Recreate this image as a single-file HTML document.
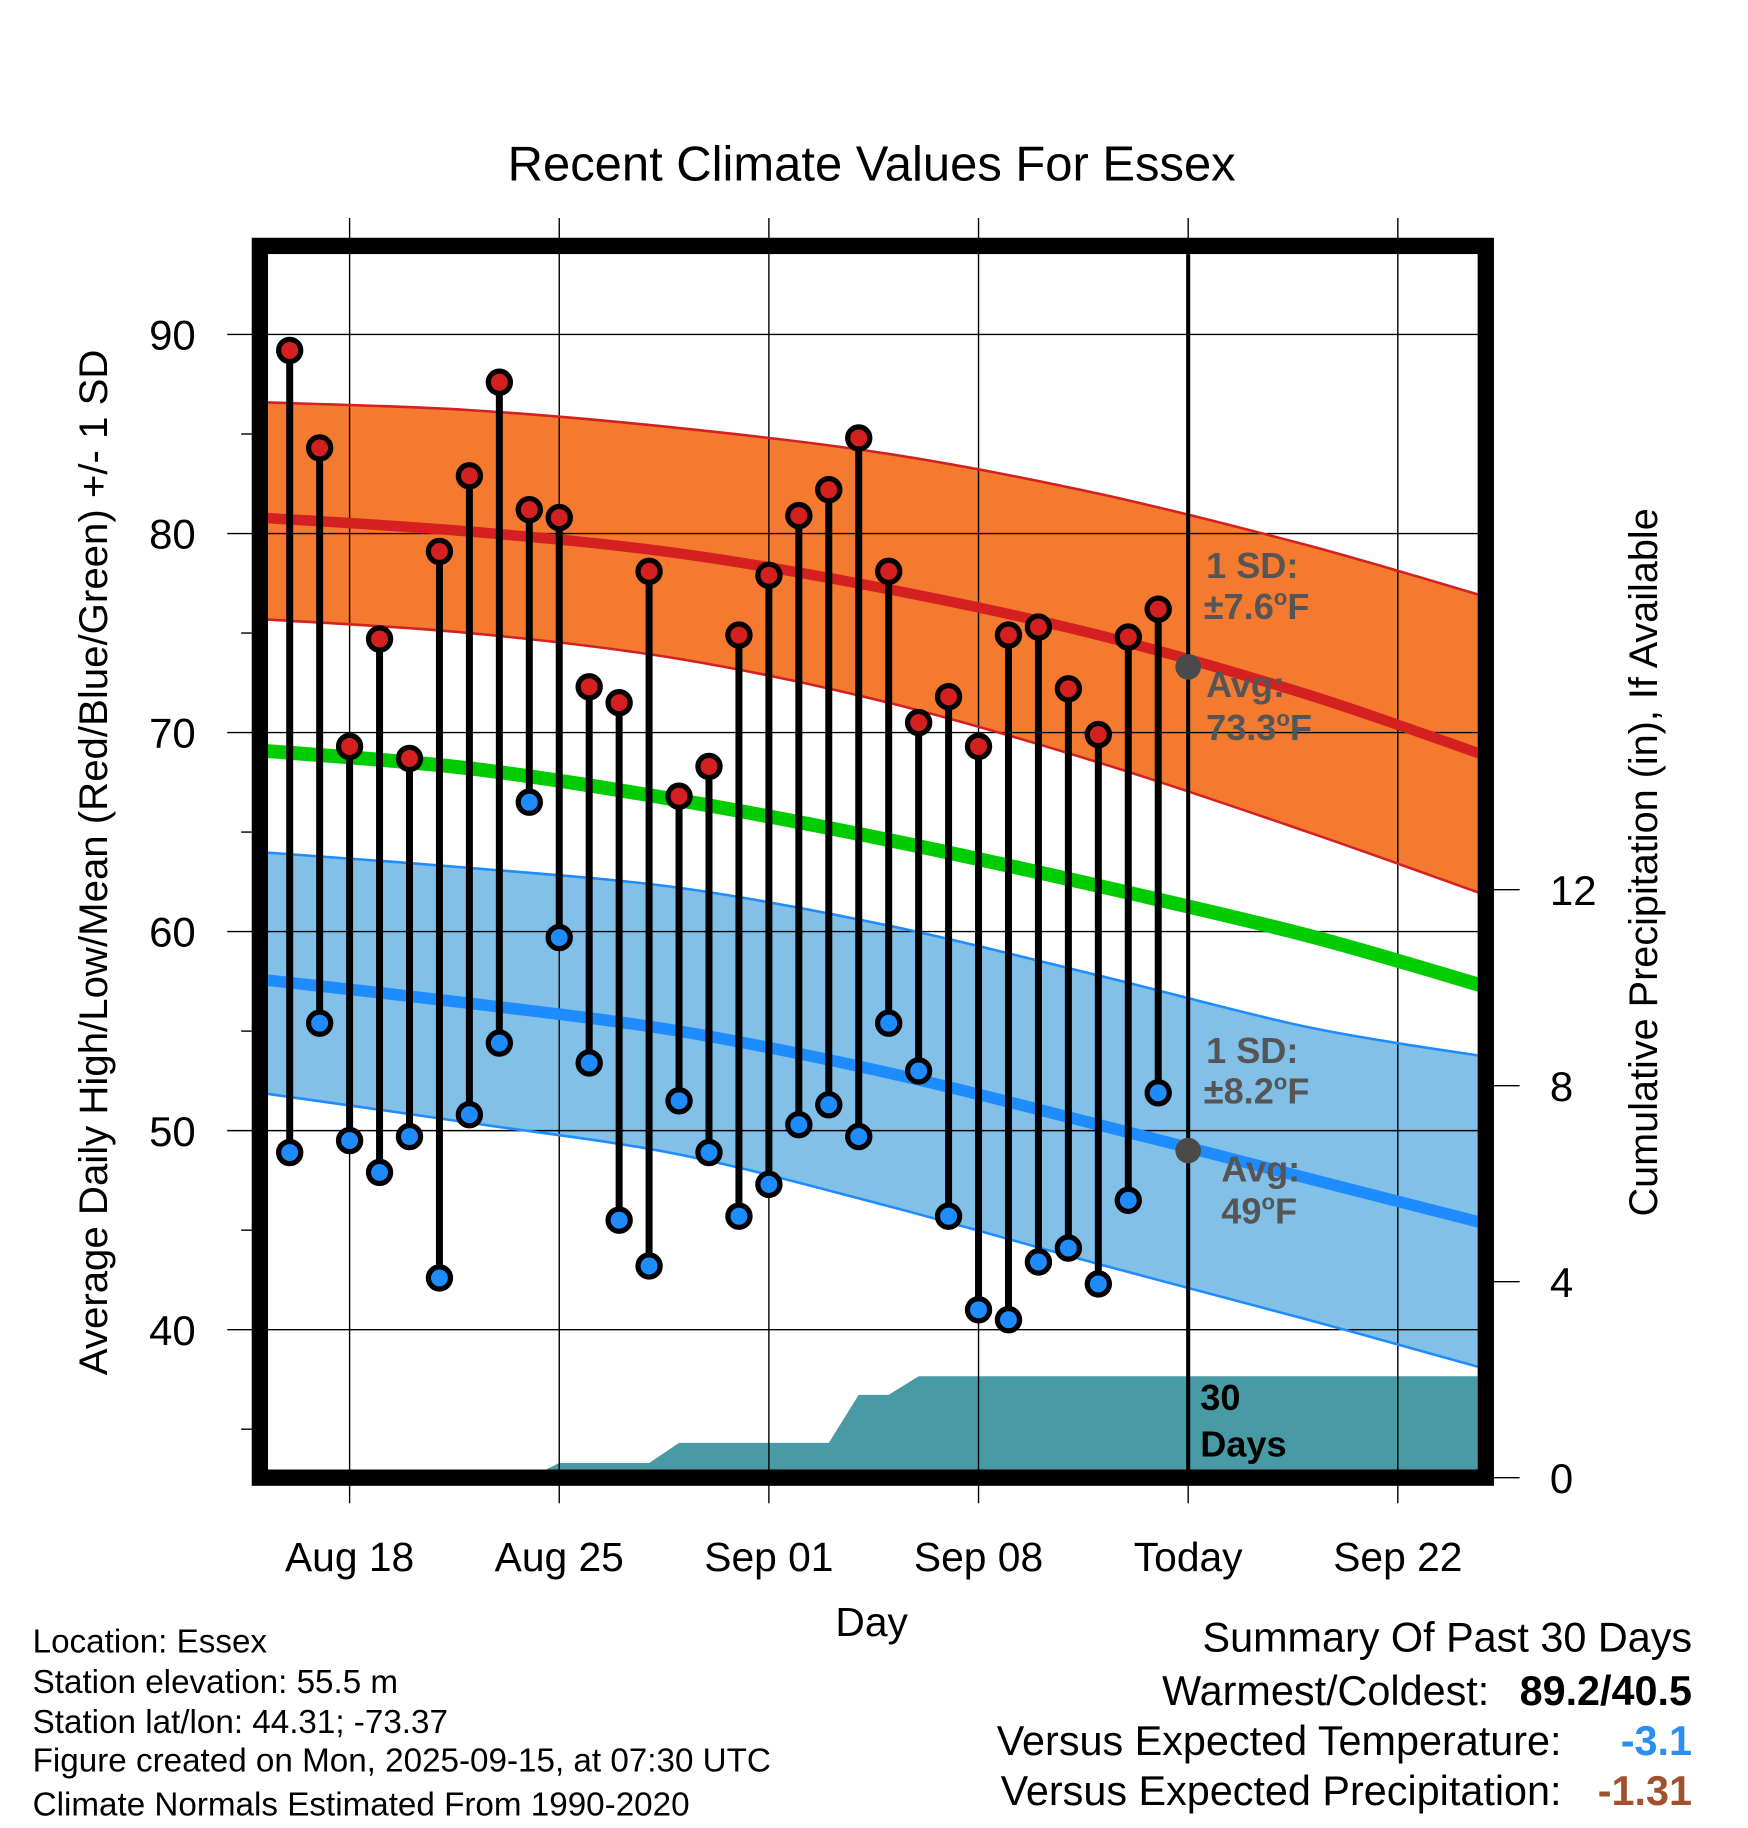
<!DOCTYPE html>
<html><head><meta charset="utf-8"><style>
html,body{margin:0;padding:0;background:#fff}
svg{display:block;font-family:"Liberation Sans",Arial,sans-serif}
</style></head><body>
<svg id="chart" width="1748" height="1828" viewBox="0 0 1500 1568.6" xmlns="http://www.w3.org/2000/svg">
<defs><clipPath id="plotclip"><rect x="230" y="218" width="1038" height="1044"/></clipPath></defs>
<g id="bg" clip-path="url(#plotclip)"></g>
<g id="grid"></g>
<g id="series" clip-path="url(#plotclip)"></g>
<g id="marks"></g>
<rect x="223" y="211" width="1052" height="1057" fill="none" stroke="#000" stroke-width="14"/>
<g id="axes"></g>
<text x="748" y="155" font-size="42" text-anchor="middle">Recent Climate Values For Essex</text>
<text transform="translate(92,740) rotate(-90)" font-size="34.5" text-anchor="middle">Average Daily High/Low/Mean (Red/Blue/Green) +/- 1 SD</text>
<text transform="translate(1422,740) rotate(-90)" font-size="34" text-anchor="middle">Cumulative Precipitation (in), If Available</text>
<text x="748" y="1404" font-size="35" text-anchor="middle">Day</text>
<g font-size="31" font-weight="bold" fill="#555">
<text x="1035" y="496">1 SD:</text><text x="1033" y="531">±7.6<tspan font-size="19" dy="-12">o</tspan><tspan dy="12">F</tspan></text>
<text x="1035" y="598">Avg:</text><text x="1035" y="635">73.3<tspan font-size="19" dy="-12">o</tspan><tspan dy="12">F</tspan></text>
</g>
<g font-size="31" font-weight="bold" fill="#555">
<text x="1035" y="912">1 SD:</text><text x="1033" y="947">±8.2<tspan font-size="19" dy="-12">o</tspan><tspan dy="12">F</tspan></text>
<text x="1048" y="1014">Avg:</text><text x="1048" y="1050">49<tspan font-size="19" dy="-12">o</tspan><tspan dy="12">F</tspan></text>
</g>
<g font-size="31" font-weight="bold" fill="#000">
<text x="1030" y="1210">30</text><text x="1030" y="1250">Days</text>
</g>
<g font-size="28.5">
<text x="28" y="1418">Location: Essex</text>
<text x="28" y="1453">Station elevation: 55.5 m</text>
<text x="28" y="1487">Station lat/lon: 44.31; -73.37</text>
<text x="28" y="1520">Figure created on Mon, 2025-09-15, at 07:30 UTC</text>
<text x="28" y="1558">Climate Normals Estimated From 1990-2020</text>
</g>
<g font-size="35.5">
<text x="1452" y="1417" text-anchor="end">Summary Of Past 30 Days</text>
<text x="1278" y="1463" text-anchor="end">Warmest/Coldest:</text>
<text x="1452" y="1463" text-anchor="end" font-weight="bold">89.2/40.5</text>
<text x="1340" y="1506" text-anchor="end">Versus Expected Temperature:</text>
<text x="1452" y="1506" text-anchor="end" font-weight="bold" fill="#2a8ff0">-3.1</text>
<text x="1340" y="1549" text-anchor="end">Versus Expected Precipitation:</text>
<text x="1452" y="1549" text-anchor="end" font-weight="bold" fill="#a0522d">-1.31</text>
</g>
</svg>
<script>
// day index: 0 = Aug 18
const obsDays = [-2,-1,0,1,2,3,4,5,6,7,8,9,10,11,12,13,14,15,16,17,18,19,20,21,22,23,24,25,26,27];
const highs = [89.2,84.3,69.3,74.7,68.7,79.1,82.9,87.6,81.2,80.8,72.3,71.5,78.1,66.8,68.3,74.9,77.9,80.9,82.2,84.8,78.1,70.5,71.8,69.3,74.9,75.3,72.2,69.9,74.8,76.2];
const lows = [48.9,55.4,49.5,47.9,49.7,42.6,50.8,54.4,66.5,59.7,53.4,45.5,43.2,51.5,48.9,45.7,47.3,50.3,51.3,49.7,55.4,53.0,45.7,41.0,40.5,43.4,44.1,42.3,46.5,51.9];
const precipCum = [0,0,0,0,0,0,0,0,0,0.3,0.3,0.3,0.3,0.71,0.71,0.71,0.71,0.71,0.71,1.69,1.69,2.07,2.07,2.07,2.07,2.07,2.07,2.07,2.07,2.07];
const normDays = [-3,4,11,18,25,32,38];
const highMean = [80.8,80.1,79.0,77.2,74.9,71.9,68.8];
const highUpper = [86.6,86.2,85.3,84.0,82.0,79.4,76.8];
const highLower = [75.7,75.0,73.7,71.5,68.5,65.0,61.8];
const meanNorm = [69.1,68.2,66.6,64.6,62.3,59.8,57.2];
const lowMean = [57.6,56.4,55.0,52.9,50.3,47.6,45.3];
const lowUpper = [64.0,63.2,62.2,60.3,57.8,55.2,53.7];
const lowLower = [51.9,50.4,48.8,46.2,43.3,40.5,38.0];
const xTickDays = [0,7,14,21,28,35];
const xTickLabels = ["Aug 18","Aug 25","Sep 01","Sep 08","Today","Sep 22"];
const yTicks = [40,50,60,70,80,90];
const y2Ticks = [0,4,8,12];
const todayDay = 28;
const todayHigh = 73.3, todayLow = 49.0;

const NS="http://www.w3.org/2000/svg";
const X = d => 300 + d*25.7;
const Y = v => 287 + (90-v)*17.08;
const P = p => 1268 - p*42.05;
function mk(tag, attrs, parent){const e=document.createElementNS(NS,tag);for(const k in attrs)e.setAttribute(k,attrs[k]);document.getElementById(parent).appendChild(e);return e;}
function smooth(ds,vs,start){
  const pts=ds.map((d,i)=>[X(d),Y(vs[i])]);
  let s=(start?'M':'L')+pts[0][0].toFixed(1)+','+pts[0][1].toFixed(1);
  for(let i=0;i<pts.length-1;i++){
    const p0=pts[i-1]||pts[i],p1=pts[i],p2=pts[i+1],p3=pts[i+2]||p2;
    const c1=[p1[0]+(p2[0]-p0[0])/6,p1[1]+(p2[1]-p0[1])/6];
    const c2=[p2[0]-(p3[0]-p1[0])/6,p2[1]-(p3[1]-p1[1])/6];
    s+=' C'+c1.map(v=>v.toFixed(1)).join(',')+' '+c2.map(v=>v.toFixed(1)).join(',')+' '+p2[0].toFixed(1)+','+p2[1].toFixed(1);
  }
  return s;
}
const line=(ds,vs)=>smooth(ds,vs,true);
const band=(up,lo)=>smooth(normDays,up,true)+' '+smooth(normDays.slice().reverse(),lo.slice().reverse(),false)+' Z';

let e;
e=mk('path',{d:band(highUpper,highLower),fill:'#f47a30',stroke:'none'},'bg');


e=mk('path',{d:band(lowUpper,lowLower),fill:'#82c0e7',stroke:'none'},'bg');


let pd='M'+X(obsDays[0])+','+P(0);
obsDays.forEach((d,i)=>{pd+=' L'+X(d).toFixed(1)+','+P(precipCum[i]).toFixed(1);});
pd+=' L1270,'+P(precipCum[precipCum.length-1]).toFixed(1)+' L1270,'+P(0)+' Z';
e=mk('path',{d:pd,fill:'#489ba4'},'bg');



yTicks.forEach(v=>{
  e=mk('line',{x1:195,x2:1268,y1:Y(v),y2:Y(v),stroke:'#000','stroke-width':1.2},'grid');
  
  
  e=mk('text',{x:168,y:Y(v)+13,'font-size':36,'text-anchor':'end'},'grid');
  e.textContent=v;
  
  
});
[35,45,55,65,75,85].forEach(v=>{mk('line',{x1:207,x2:216,y1:Y(v),y2:Y(v),stroke:'#000','stroke-width':1.2},'grid');});
xTickDays.forEach((d,i)=>{
  e=mk('line',{x1:X(d),x2:X(d),y1:187,y2:1290,stroke:'#000','stroke-width':1.2},'grid');
  
  
  e=mk('text',{x:X(d),y:1348,'font-size':35,'text-anchor':'middle'},'grid');
  e.textContent=xTickLabels[i];
  
  
});
y2Ticks.forEach(p=>{
  mk('line',{x1:1280,x2:1304,y1:P(p),y2:P(p),stroke:'#000','stroke-width':1.2},'grid');
  e=mk('text',{x:1330,y:P(p)+13,'font-size':36},'grid');
  e.textContent=p;
  
  
});

e=mk('path',{d:band(highUpper,highLower),fill:'none',stroke:'#d42020','stroke-width':2.2},'series');
e=mk('path',{d:band(lowUpper,lowLower),fill:'none',stroke:'#1e8cff','stroke-width':2.2},'series');
e=mk('path',{d:line(normDays,highMean),fill:'none',stroke:'#d42020','stroke-width':9},'series');


e=mk('path',{d:line(normDays,meanNorm),fill:'none',stroke:'#00cc00','stroke-width':12},'series');


e=mk('path',{d:line(normDays,lowMean),fill:'none',stroke:'#1e8cff','stroke-width':10},'series');


e=mk('line',{x1:X(todayDay),x2:X(todayDay),y1:218,y2:1262,stroke:'#000','stroke-width':3.5},'series');


[todayHigh,todayLow].forEach(v=>{
  e=mk('circle',{cx:X(todayDay),cy:Y(v),r:11,fill:'#4a4a4a'},'series');
  
  
});

obsDays.forEach((d,i)=>{
  e=mk('line',{x1:X(d),x2:X(d),y1:Y(highs[i]),y2:Y(lows[i]),stroke:'#000','stroke-width':6},'marks');
  
  
});
obsDays.forEach((d,i)=>{
  e=mk('circle',{cx:X(d),cy:Y(highs[i]),r:9.5,fill:'#d42020',stroke:'#000','stroke-width':4.5},'marks');
  
  
  e=mk('circle',{cx:X(d),cy:Y(lows[i]),r:9.5,fill:'#1e8cff',stroke:'#000','stroke-width':4.5},'marks');
  
  
});
</script>
</body></html>
